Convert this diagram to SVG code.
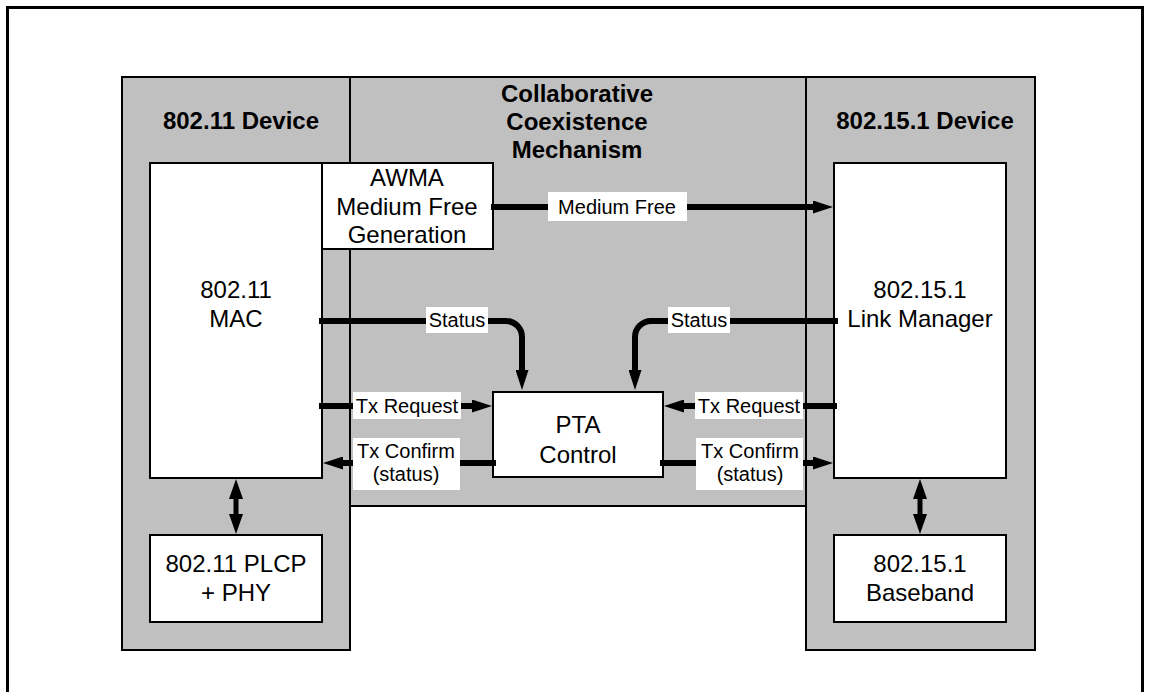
<svg xmlns="http://www.w3.org/2000/svg" width="1149" height="692" viewBox="0 0 1149 692">
<style>
text{font-family:"Liberation Sans",Arial,sans-serif;fill:#000;text-anchor:middle}
.title{font-size:24px;font-weight:bold}
.body{font-size:24px}
.lbl{font-size:20px}
.panel{fill:#c0c0c0;stroke:#000;stroke-width:2}
.box{fill:#fff;stroke:#000;stroke-width:2}
.lblbg{fill:#fff;stroke:none}
.wire{fill:none;stroke:#000;stroke-width:6}
.vwire{fill:none;stroke:#000;stroke-width:5}
</style>
<defs>
<marker id="ah" markerUnits="userSpaceOnUse" markerWidth="20" markerHeight="13" refX="1" refY="6.5" orient="auto" viewBox="0 0 20 13">
<path d="M0,0 L20,6.5 L0,13 Z" fill="#000"/>
</marker>
<marker id="ahv" markerUnits="userSpaceOnUse" markerWidth="20" markerHeight="14" refX="1" refY="7" orient="auto-start-reverse" viewBox="0 0 20 14">
<path d="M0,0 L20,7 L0,14 Z" fill="#000"/>
</marker>
</defs>
<rect x="7.5" y="7.5" width="1135" height="720" fill="#fff" stroke="#000" stroke-width="3"/>
<g id="coexistence-panel">
<rect class="panel" x="350" y="77" width="456" height="429"/>
<text class="title" x="577" y="102">Collaborative</text>
<text class="title" x="577" y="130">Coexistence</text>
<text class="title" x="577" y="158">Mechanism</text>
</g>
<g id="wifi-device">
<rect class="panel" x="122" y="77" width="228" height="573"/>
<text class="title" x="241" y="129">802.11 Device</text>
</g>
<g id="bt-device">
<rect class="panel" x="806" y="77" width="229" height="573"/>
<text class="title" x="925" y="129">802.15.1 Device</text>
</g>
<g id="wifi-mac">
<rect class="box" x="150" y="163" width="172" height="315"/>
<text class="body" x="236" y="298">802.11</text>
<text class="body" x="236" y="327">MAC</text>
</g>
<g id="awma">
<rect class="box" x="322" y="163" width="171" height="86"/>
<text class="body" x="407" y="186">AWMA</text>
<text class="body" x="407" y="215">Medium Free</text>
<text class="body" x="407" y="243">Generation</text>
</g>
<g id="bt-lm">
<rect class="box" x="834" y="163" width="172" height="315"/>
<text class="body" x="920" y="298">802.15.1</text>
<text class="body" x="920" y="327">Link Manager</text>
</g>
<g id="pta">
<rect class="box" x="493" y="392" width="170" height="85"/>
<text class="body" x="578" y="433">PTA</text>
<text class="body" x="578" y="463">Control</text>
</g>
<g id="wifi-phy">
<rect class="box" x="150" y="535" width="172" height="87"/>
<text class="body" x="236" y="572">802.11 PLCP</text>
<text class="body" x="236" y="601">+ PHY</text>
</g>
<g id="bt-baseband">
<rect class="box" x="834" y="535" width="172" height="87"/>
<text class="body" x="920" y="572">802.15.1</text>
<text class="body" x="920" y="601">Baseband</text>
</g>
<g id="connectors">
<path class="wire" d="M491,207 H814" marker-end="url(#ah)"/>
<path class="wire" d="M319,321 H506 A16,16 0 0 1 522,337 V371" marker-end="url(#ah)"/>
<path class="wire" d="M838,321 H651 A16,16 0 0 0 635,337 V371" marker-end="url(#ah)"/>
<path class="wire" d="M319,406 H473" marker-end="url(#ah)"/>
<path class="wire" d="M837,406 H683" marker-end="url(#ah)"/>
<path class="wire" d="M496,463 H342" marker-end="url(#ah)"/>
<path class="wire" d="M660,463 H814" marker-end="url(#ah)"/>
<path class="vwire" d="M236,498 V515" marker-start="url(#ahv)" marker-end="url(#ahv)"/>
<path class="vwire" d="M920,498 V515" marker-start="url(#ahv)" marker-end="url(#ahv)"/>
<rect class="lblbg" x="548" y="192" width="139" height="29"/>
<text class="lbl" x="617" y="214">Medium Free</text>
<rect class="lblbg" x="426" y="307" width="62" height="26"/>
<text class="lbl" x="457" y="327">Status</text>
<rect class="lblbg" x="668" y="307" width="62" height="26"/>
<text class="lbl" x="699" y="327">Status</text>
<rect class="lblbg" x="353" y="392" width="108" height="27"/>
<text class="lbl" x="407" y="413">Tx Request</text>
<rect class="lblbg" x="695" y="392" width="108" height="27"/>
<text class="lbl" x="749" y="413">Tx Request</text>
<rect class="lblbg" x="353" y="438" width="107" height="52"/>
<text class="lbl" x="406" y="458">Tx Confirm</text>
<text class="lbl" x="406" y="481">(status)</text>
<rect class="lblbg" x="696" y="438" width="107" height="52"/>
<text class="lbl" x="750" y="458">Tx Confirm</text>
<text class="lbl" x="750" y="481">(status)</text>
</g>
</svg>
